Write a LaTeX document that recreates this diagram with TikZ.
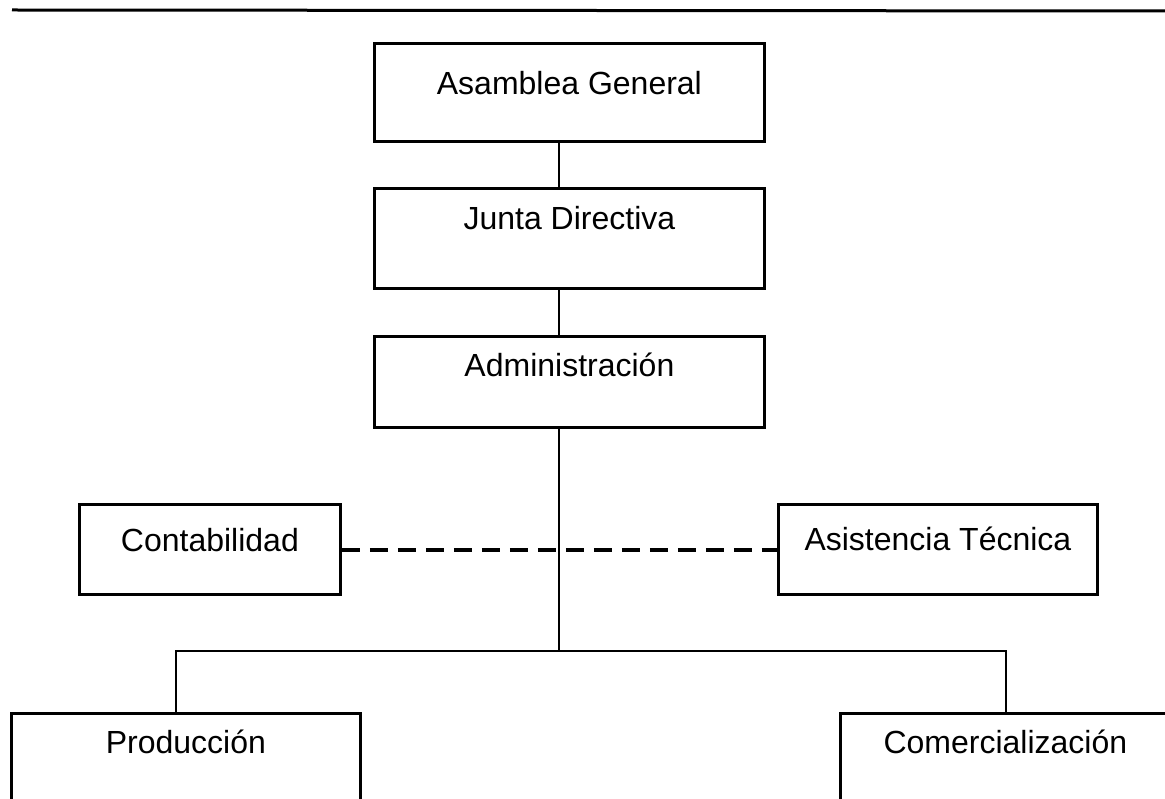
\documentclass[tikz,border=0pt]{standalone}
\usepackage{fontspec}
\setmainfont{Liberation Sans}
\begin{document}
\begin{tikzpicture}[x=1pt,y=-1pt,
  orgbox/.style={draw=black, line width=2.8pt, inner sep=0pt, anchor=north west,
    font=\fontsize{32}{38}\selectfont, align=center},
  link/.style={draw=black, line width=2.6pt},
  dashlink/.style={draw=black, line width=3.4pt, dash pattern=on 18pt off 10pt}]
\useasboundingbox (0,0) rectangle (1165,799);
\clip (0,0) rectangle (1165,799);
\fill[white] (0,0) rectangle (1165,799);
% header rule
\coordinate (r1) at (12,10);
\coordinate (r2) at (1170,11);
\draw[line width=3pt] (r1) -- (r2);
% boxes
\node[orgbox, minimum width=390pt, text height=51pt, text depth=47pt] (ag) at (373,42) {Asamblea General};
\node[orgbox, minimum width=390pt, text height=41pt, text depth=59pt] (jd) at (373,187) {Junta Directiva};
\node[orgbox, minimum width=390pt, text height=40pt, text depth=51pt] (ad) at (373,335) {Administración};
\node[orgbox, minimum width=261pt, text height=47pt, text depth=43pt] (co) at (78,503) {Contabilidad};
\node[orgbox, minimum width=319pt, text height=46pt, text depth=44pt] (at) at (777,503) {Asistencia Técnica};
\node[orgbox, minimum width=349pt, text height=40pt, text depth=80pt] (pr) at (10,712) {Producción};
\node[orgbox, minimum width=330pt, text height=40pt, text depth=80pt] (cm) at (839,712) {Comercialización};
% spine and branch points
\coordinate (spine) at (559,0);
\coordinate (bar) at (0,651);
\coordinate (prx) at (176,0);
\coordinate (cmx) at (1006,0);
\coordinate (dy) at (0,550);
\draw[link] (ag.south -| spine) -- (jd.north -| spine);
\draw[link] (jd.south -| spine) -- (ad.north -| spine);
\draw[link] (ad.south -| spine) -- (bar -| spine);
\draw[link] (pr.north -| prx) -- (bar -| prx) -- (bar -| cmx) -- (cm.north -| cmx);
\draw[dashlink] (co.east |- dy) -- (at.west |- dy);
\end{tikzpicture}
\end{document}
